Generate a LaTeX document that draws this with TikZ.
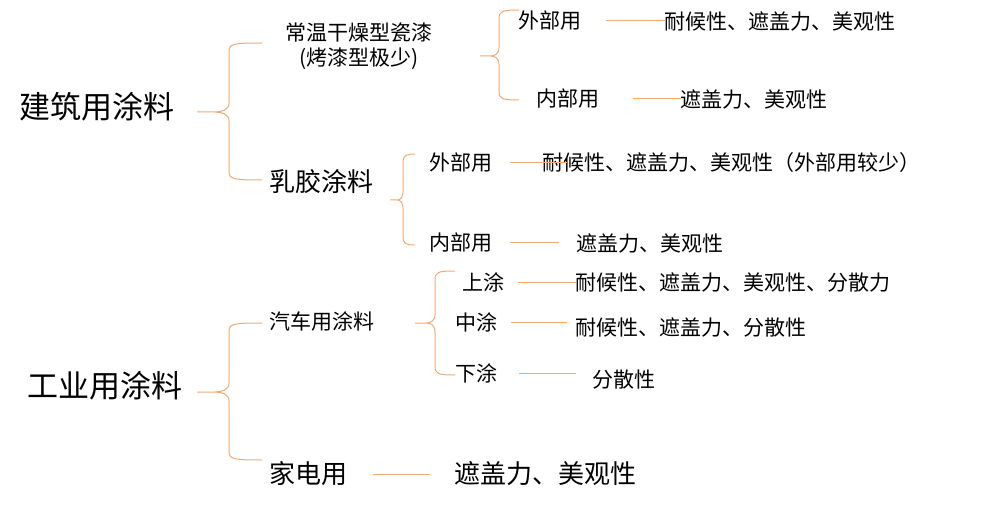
\documentclass[tikz,border=0pt]{standalone}
\usepackage{fontspec}
\usepackage{tikz}
\usepackage{xcolor}
\usetikzlibrary{calc,positioning}
\newfontfamily\cjk{Noto Sans CJK SC}
\definecolor{brc}{HTML}{F3AA70}
\tikzset{%
	topclass/.style = {font=\cjk\fontsize{31}{36}\selectfont, inner sep=0pt, anchor=west},
	midclass/.style = {font=\cjk\fontsize{26}{30}\selectfont, inner sep=0pt, anchor=west},
	subclass/.style = {font=\cjk\fontsize{21}{25}\selectfont, inner sep=0pt, anchor=west},
	link/.style     = {draw=brc, line width=1pt},
}
% curly bracket: tip x, spine x, end x, top y, middle y, bottom y
\newcommand{\curlybr}[6]{%
	\pgfmathsetmacro\cw{0.45*(#2-#1)}
	\draw[link] (#3,#4) .. controls (#2+3,#4) and (#2,#4+1) .. (#2,#4+9)
		-- (#2,#5-9) .. controls (#2,#5-2) and (#2-\cw*0.5,#5) .. (#2-\cw,#5) -- (#1,#5)
		-- (#2-\cw,#5) .. controls (#2-\cw*0.5,#5) and (#2,#5+2) .. (#2,#5+9)
		-- (#2,#6-9) .. controls (#2,#6-1) and (#2+3,#6) .. (#3,#6);
}

\begin{document}
\begin{tikzpicture}[x=1pt,y=-1pt]
	\useasboundingbox (0,0) rectangle (988,505);
	% left column
	\node[topclass] (jz) at (19,107) {建筑用涂料};
	\node[topclass] (gy) at (27,386) {工业用涂料};
	% second column
	\node[subclass, anchor=center, align=center] (cw) at (359,46) {常温干燥型瓷漆\\(烤漆型极少)};
	\node[midclass] (rj) at (269,182) {乳胶涂料};
	\node[subclass] (qc) at (269,321) {汽车用涂料};
	\node[midclass] (jd) at (269,474) {家电用};
	% third column
	\node[subclass] (wb1) at (518,21) {外部用};
	\node[subclass] (nb1) at (536,99) {内部用};
	\node[subclass] (wb2) at (429,163) {外部用};
	\node[subclass] (nb2) at (429,243) {内部用};
	\node[subclass] (st) at (462,282) {上涂};
	\node[subclass] (zt) at (455,322) {中涂};
	\node[subclass] (xt) at (455,373) {下涂};
	% properties
	\node[subclass] (wp1) at (664,21) {耐候性、遮盖力、美观性};
	\node[subclass] (np1) at (680,99) {遮盖力、美观性};
	\node[subclass] (wp2) at (542,163) {耐候性、遮盖力、美观性（外部用较少）};
	\node[subclass] (np2) at (576,243) {遮盖力、美观性};
	\node[subclass] (sp) at (575,282) {耐候性、遮盖力、美观性、分散力};
	\node[subclass] (zp) at (575,327) {耐候性、遮盖力、分散性};
	\node[subclass] (xp) at (592,380) {分散性};
	\node[midclass] (jp) at (454,474) {遮盖力、美观性};
	% brackets
	\curlybr{197}{229}{262}{43}{112}{180}
	\curlybr{480}{499}{519}{10}{56}{100}
	\curlybr{390}{403}{415}{154}{200}{245}
	\curlybr{197}{229}{262}{323}{392}{460}
	\curlybr{415}{435}{455}{271}{323}{375}
	% lines to properties
	\draw[link] ([xshift=25pt]wb1.east) -- ([xshift=1pt]wb1.east -| wp1.west);
	\draw[link] ([xshift=34pt]nb1.east) -- ([xshift=1pt]nb1.east -| np1.west);
	\draw[link] ([xshift=18pt]wb2.east) -- ([xshift=25pt]wb2.east -| wp2.west);
	\draw[link] ([xshift=18pt]nb2.east) -- ([xshift=-17pt]nb2.east -| np2.west);
	\draw[link] ([xshift=14pt]st.east) -- ([xshift=1pt]st.east -| sp.west);
	\draw[link] ([xshift=14pt]zt.east) -- ([xshift=-8pt]zt.east -| zp.west);
	\draw[link] ([xshift=22pt]xt.east) -- ([xshift=-16pt]xt.east -| xp.west);
	\draw[link] ([xshift=26pt]jd.east) -- ([xshift=-24pt]jd.east -| jp.west);
\end{tikzpicture}
\end{document}
